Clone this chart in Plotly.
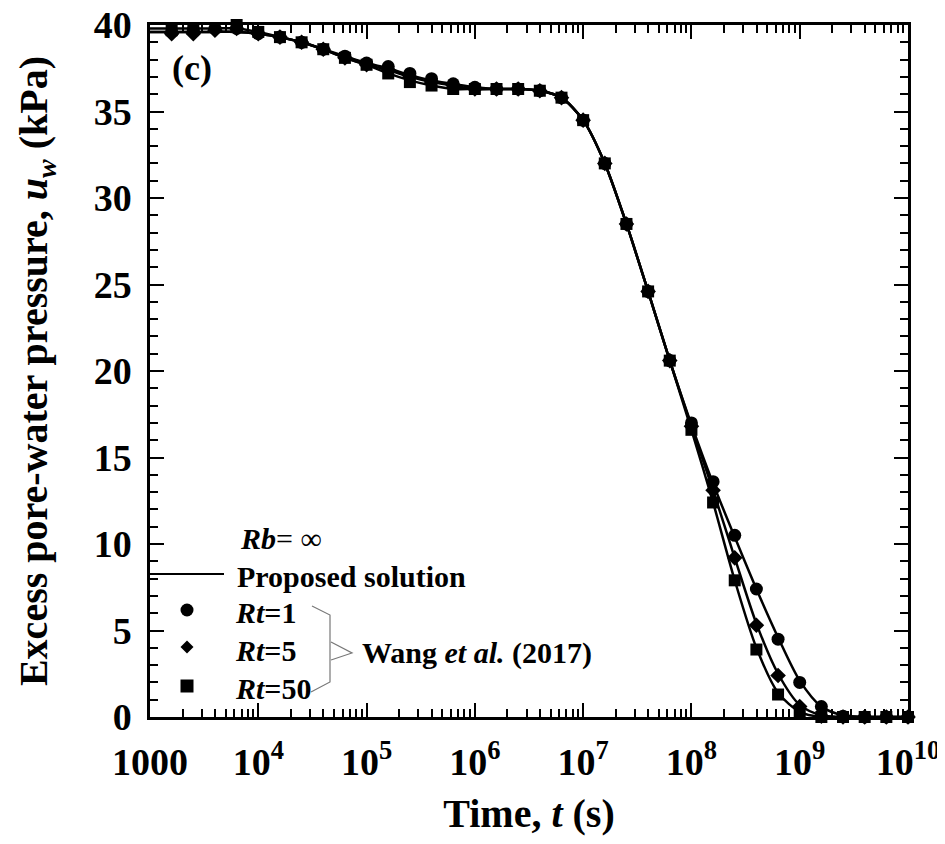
import plotly.graph_objects as go

# ---------------- data ----------------
time_s = [1000, 1585, 2512, 3981, 6310,
          1.0e4, 1.585e4, 2.512e4, 3.981e4, 6.310e4,
          1.0e5, 1.585e5, 2.512e5, 3.981e5, 6.310e5,
          1.0e6, 1.585e6, 2.512e6, 3.981e6, 6.310e6,
          1.0e7, 1.585e7, 2.512e7, 3.981e7, 6.310e7,
          1.0e8, 1.585e8, 2.512e8, 3.981e8, 6.310e8,
          1.0e9, 1.585e9, 2.512e9, 3.981e9, 6.310e9,
          1.0e10]

# Wang et al. (2017) markers
wang_rt1 = [39.6, 39.6, 39.7, 39.8, 39.8, 39.5, 39.3, 39.0, 38.6, 38.2,
            37.8, 37.6, 37.2, 36.9, 36.6, 36.4, 36.3, 36.3, 36.2, 35.8,
            34.5, 32.0, 28.5, 24.6, 20.6, 17.0, 13.6, 10.5, 7.4, 4.5,
            2.0, 0.6, 0.05, 0.0, 0.0, 0.0]
wang_rt5 = [39.5, 39.5, 39.5, 39.7, 39.8, 39.5, 39.3, 39.0, 38.6, 38.1,
            37.7, 37.4, 37.0, 36.7, 36.5, 36.3, 36.3, 36.3, 36.2, 35.8,
            34.5, 32.0, 28.5, 24.6, 20.6, 16.8, 13.1, 9.2, 5.3, 2.4,
            0.6, 0.05, 0.0, 0.0, 0.0, 0.0]
wang_rt50 = [39.7, 39.7, 39.8, 40.1, 40.0, 39.6, 39.3, 39.0, 38.6, 38.1,
             37.7, 37.2, 36.7, 36.5, 36.3, 36.3, 36.3, 36.3, 36.2, 35.8,
             34.5, 32.0, 28.5, 24.6, 20.6, 16.6, 12.4, 7.9, 3.9, 1.3,
             0.2, 0.0, 0.0, 0.0, 0.0, 0.0]

# Proposed solution curves (smooth lines)
prop_rt1 = [39.6, 39.6, 39.6, 39.6, 39.6, 39.5, 39.3, 39.0, 38.6, 38.2,
            37.8, 37.5, 37.1, 36.8, 36.6, 36.4, 36.3, 36.3, 36.2, 35.8,
            34.5, 32.0, 28.5, 24.6, 20.6, 16.9, 13.5, 10.4, 7.4, 4.6,
            2.1, 0.6, 0.1, 0.0, 0.0, 0.0]
prop_rt5 = [39.6, 39.6, 39.6, 39.6, 39.6, 39.5, 39.3, 39.0, 38.6, 38.1,
            37.7, 37.4, 37.0, 36.7, 36.5, 36.3, 36.3, 36.3, 36.2, 35.8,
            34.5, 32.0, 28.5, 24.6, 20.6, 16.8, 13.1, 9.2, 5.4, 2.5,
            0.7, 0.1, 0.0, 0.0, 0.0, 0.0]
prop_rt50 = [39.8, 39.8, 39.8, 39.8, 39.8, 39.6, 39.3, 39.0, 38.6, 38.1,
             37.7, 37.2, 36.8, 36.5, 36.3, 36.3, 36.3, 36.3, 36.2, 35.8,
             34.5, 32.0, 28.5, 24.6, 20.6, 16.6, 12.4, 7.9, 4.0, 1.4,
             0.3, 0.0, 0.0, 0.0, 0.0, 0.0]

x_tickvals = [1e3, 1e4, 1e5, 1e6, 1e7, 1e8, 1e9, 1e10]
x_ticktext = ["1000", "10<sup>4</sup>", "10<sup>5</sup>", "10<sup>6</sup>",
              "10<sup>7</sup>", "10<sup>8</sup>", "10<sup>9</sup>", "10<sup>10</sup>"]

# ---------------- figure ----------------
FONT = "Liberation Serif"
OFF = 8                      # default page body margin
W, H = 945 - OFF, 844 - OFF
# plot area in page pixels: x 150..908, y 25..717
L, R, T, B = 150 - OFF, 945 - 908, 25 - OFF, 844 - 717
PW, PH = W - L - R, H - T - B


def px(x):
    """page pixel x -> paper fraction"""
    return (x - OFF - L) / PW


def py(y):
    """page pixel y -> paper fraction"""
    return (H - B - (y - OFF)) / PH


fig = go.Figure()

for vals in (prop_rt1, prop_rt5, prop_rt50):
    fig.add_trace(go.Scatter(
        x=time_s, y=vals, mode="lines", name="Proposed solution",
        line=dict(color="black", width=2.5, shape="spline", smoothing=0.8),
        showlegend=False, cliponaxis=False, hoverinfo="skip"))

markers = [("Rt=1", wang_rt1, "circle", 13),
           ("Rt=5", wang_rt5, "diamond", 12),
           ("Rt=50", wang_rt50, "square", 12)]
for name, vals, sym, sz in markers:
    fig.add_trace(go.Scatter(
        x=time_s, y=vals, mode="markers", name=name,
        marker=dict(symbol=sym, size=sz, color="black", line=dict(width=0)),
        showlegend=False, cliponaxis=False))

axis_common = dict(
    showline=True, linecolor="black", linewidth=2.5, mirror="ticks",
    ticks="inside", ticklen=14, tickwidth=2, tickcolor="black",
    showgrid=False, zeroline=False, automargin=False,
    ticklabeloverflow="allow",
    tickfont=dict(family=FONT, size=38, color="black", weight="bold"),
)

fig.update_xaxes(
    type="log", range=[3, 10], tickmode="array",
    tickvals=x_tickvals, ticktext=x_ticktext, ticklabelstandoff=10,
    minor=dict(ticks="inside", ticklen=8, tickwidth=2, tickcolor="black",
               tickvals=[m * 10 ** e for e in range(3, 10) for m in range(2, 10)]),
    title=dict(text="Time, <i>t</i> (s)", standoff=17,
               font=dict(family=FONT, size=40, color="black", weight="bold")),
    **axis_common)

fig.update_yaxes(
    range=[0, 40], dtick=5, tick0=0, ticklabelstandoff=8,
    minor=dict(ticks="inside", ticklen=8, tickwidth=2, tickcolor="black", dtick=1),
    title=dict(text="Excess pore-water pressure, <i>u<sub>w</sub></i> (kPa)", standoff=34,
               font=dict(family=FONT, size=40, color="black", weight="bold")),
    **axis_common)

# ---------------- custom legend ----------------
shapes = []
# line sample
shapes.append(dict(type="line", xref="paper", yref="paper",
                   x0=px(148), x1=px(224), y0=py(574), y1=py(574),
                   line=dict(color="black", width=2)))
# circle
cx, cy, r = 187, 610, 6.5
shapes.append(dict(type="circle", xref="paper", yref="paper",
                   x0=px(cx - r), x1=px(cx + r), y0=py(cy + r), y1=py(cy - r),
                   fillcolor="black", line=dict(width=0)))
# diamond
dx, dy, d = 187, 647, 6.5
shapes.append(dict(type="path", xref="paper", yref="paper",
                   path=f"M {px(dx)} {py(dy - d)} L {px(dx + d)} {py(dy)} "
                        f"L {px(dx)} {py(dy + d)} L {px(dx - d)} {py(dy)} Z",
                   fillcolor="black", line=dict(width=0)))
# square
sx, sy, s = 187, 686, 6.5
shapes.append(dict(type="rect", xref="paper", yref="paper",
                   x0=px(sx - s), x1=px(sx + s), y0=py(sy + s), y1=py(sy - s),
                   fillcolor="black", line=dict(width=0)))
# bracket
br = [(312, 606), (330, 615), (330, 682), (311, 692)]
shapes.append(dict(type="path", xref="paper", yref="paper",
                   path="M " + " L ".join(f"{px(a)} {py(b)}" for a, b in br),
                   line=dict(color="#777777", width=1.2)))
arrow = [(331, 642), (352, 653), (331, 660)]
shapes.append(dict(type="path", xref="paper", yref="paper",
                   path="M " + " L ".join(f"{px(a)} {py(b)}" for a, b in arrow),
                   line=dict(color="#777777", width=1.2)))

ann_font = dict(family=FONT, size=30, color="black")
annotations = [
    dict(text="<b>(c)</b>", x=px(170), y=py(68), font=dict(family=FONT, size=36, color="black")),
    dict(text="<b><i>Rb</i></b>= ∞", x=px(238), y=py(538), font=ann_font),
    dict(text="<b>Proposed solution</b>", x=px(235), y=py(576), font=ann_font),
    dict(text="<b><i>Rt</i>=1</b>", x=px(233), y=py(612), font=ann_font),
    dict(text="<b><i>Rt</i>=5</b>", x=px(233), y=py(650), font=ann_font),
    dict(text="<b><i>Rt</i>=50</b>", x=px(233), y=py(688), font=ann_font),
    dict(text="<b>Wang <i>et al.</i> (2017)</b>", x=px(360), y=py(653), font=ann_font),
]
for a in annotations:
    a.update(xref="paper", yref="paper", xanchor="left", yanchor="middle",
             showarrow=False)

fig.update_layout(
    width=W, height=H,
    margin=dict(l=L, r=R, t=T, b=B, autoexpand=False),
    paper_bgcolor="white", plot_bgcolor="white",
    font=dict(family=FONT, color="black"),
    shapes=shapes, annotations=annotations,
    showlegend=False,
)

fig.write_html("out.html")
